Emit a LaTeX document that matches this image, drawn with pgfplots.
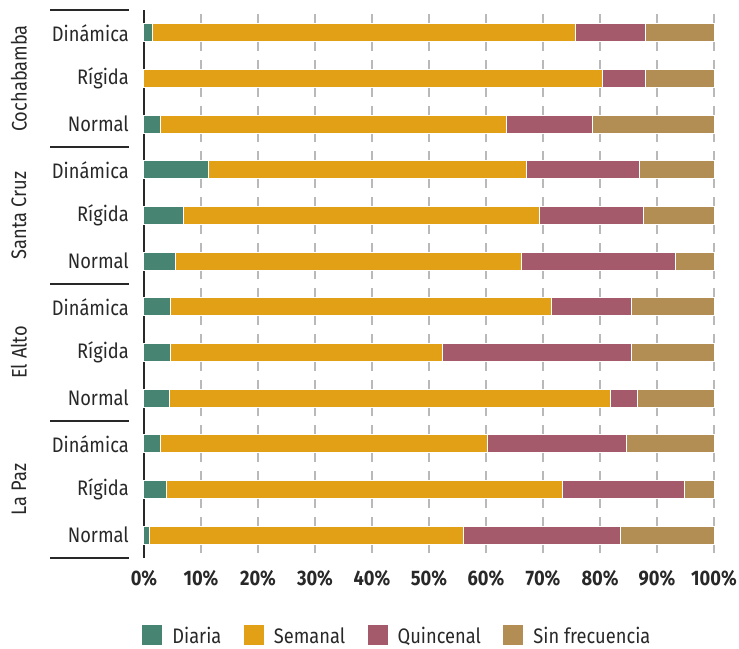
\documentclass[border=0pt]{standalone}
\usepackage{fontspec}
\setmainfont{Fira Sans}[FakeStretch=0.87]
\usepackage{pgfplots}
\usepackage{pgfplotstable}
\pgfplotsset{compat=1.18}
\definecolor{cDiaria}{RGB}{72,132,114}
\definecolor{cSemanal}{RGB}{226,160,22}
\definecolor{cQuin}{RGB}{165,90,107}
\definecolor{cSin}{RGB}{178,142,85}
\definecolor{txt}{RGB}{40,40,40}
\definecolor{gridc}{RGB}{185,185,185}
\newcommand\fs{\fontsize{21pt}{25pt}\selectfont}
% y: 0 = La Paz Normal (bottom) ... 11 = Cochabamba Dinamica (top)
\pgfplotstableread{
y  D     S     Q     F
0  0.9   55.2  27.5  16.4
1  4.0   69.5  21.4  5.1
2  2.9   57.3  24.5  15.3
3  4.4   77.5  4.6   13.5
4  4.7   47.7  33.2  14.4
5  4.7   66.8  14.1  14.4
6  5.5   60.8  26.9  6.8
7  6.9   62.5  18.3  12.3
8  11.3  55.8  19.9  13.0
9  2.9   60.7  15.1  21.3
10 0.0   80.4  7.5   12.1
11 1.5   74.2  12.2  12.1
}\datatable
\begin{document}
\begin{tikzpicture}
\useasboundingbox (0,0) rectangle (739pt,648pt);
\begin{axis}[
  at={(144pt,90pt)}, anchor=south west,
  scale only axis, width=570pt, height=548pt,
  xbar stacked, bar width=18pt,
  xmin=0, xmax=100, ymin=-0.5, ymax=11.5,
  clip=false,
  axis lines*=left,
  axis line style={draw=none},
  major tick length=0pt,
  /pgf/number format/assume math mode=true,
  xtick={0,10,...,100},
  xticklabel={\pgfmathprintnumber{\tick}\%},
  x tick label style={font=\fs\bfseries, text=txt, anchor=north, inner sep=0pt, yshift=-12pt},
  ytick={0,...,11},
  yticklabels={Normal,Rígida,Dinámica,Normal,Rígida,Dinámica,Normal,Rígida,Dinámica,Normal,Rígida,Dinámica},
  y tick label style={font=\fs, text=txt, anchor=east, inner sep=0pt, xshift=-15pt},
  xmajorgrids,
  major grid style={gridc, line width=1.3pt, dash pattern=on 36.67pt off 9pt, dash phase=41.17pt},
  legend columns=4,
  legend style={draw=none, fill=none, at={(rel axis cs:-0.005,-0.141)}, anchor=west, inner sep=0pt,
    font=\fs, text=txt,
    /tikz/every even column/.append style={column sep=21.5pt},
    nodes={inner sep=0pt, text depth=0pt}},
  legend image code/.code={\fill[#1] (0pt,-10.5pt) rectangle (21pt,10.5pt); \path (30pt,0);},
  every axis plot/.append style={draw=white, line width=1pt},
]
\addplot[fill=cDiaria] table[x=D, y=y] {\datatable};
\addplot[fill=cSemanal] table[x=S, y=y] {\datatable};
\addplot[fill=cQuin] table[x=Q, y=y] {\datatable};
\addplot[fill=cSin] table[x=F, y=y] {\datatable};
\legend{Diaria,Semanal,Quincenal,Sin frecuencia}
\draw[txt, line width=1.3pt] (rel axis cs:0,0) -- (rel axis cs:0,1);
\draw[txt, line width=1.3pt] ([xshift=-94pt]axis cs:0,-0.5) -- ([xshift=-15pt]axis cs:0,-0.5);
\draw[txt, line width=1.3pt] ([xshift=-94pt]axis cs:0,2.5) -- ([xshift=-15pt]axis cs:0,2.5);
\draw[txt, line width=1.3pt] ([xshift=-94pt]axis cs:0,5.5) -- ([xshift=-15pt]axis cs:0,5.5);
\draw[txt, line width=1.3pt] ([xshift=-94pt]axis cs:0,8.5) -- ([xshift=-15pt]axis cs:0,8.5);
\draw[txt, line width=1.3pt] ([xshift=-94pt]axis cs:0,11.5) -- ([xshift=-15pt]axis cs:0,11.5);
\node[rotate=90, font=\fs, text=txt] at ([xshift=-125pt]axis cs:0,10) {Cochabamba};
\node[rotate=90, font=\fs, text=txt] at ([xshift=-125pt]axis cs:0,7) {Santa Cruz};
\node[rotate=90, font=\fs, text=txt] at ([xshift=-125pt]axis cs:0,4) {El Alto};
\node[rotate=90, font=\fs, text=txt] at ([xshift=-125pt]axis cs:0,1) {La Paz};
\end{axis}
\end{tikzpicture}
\end{document}
